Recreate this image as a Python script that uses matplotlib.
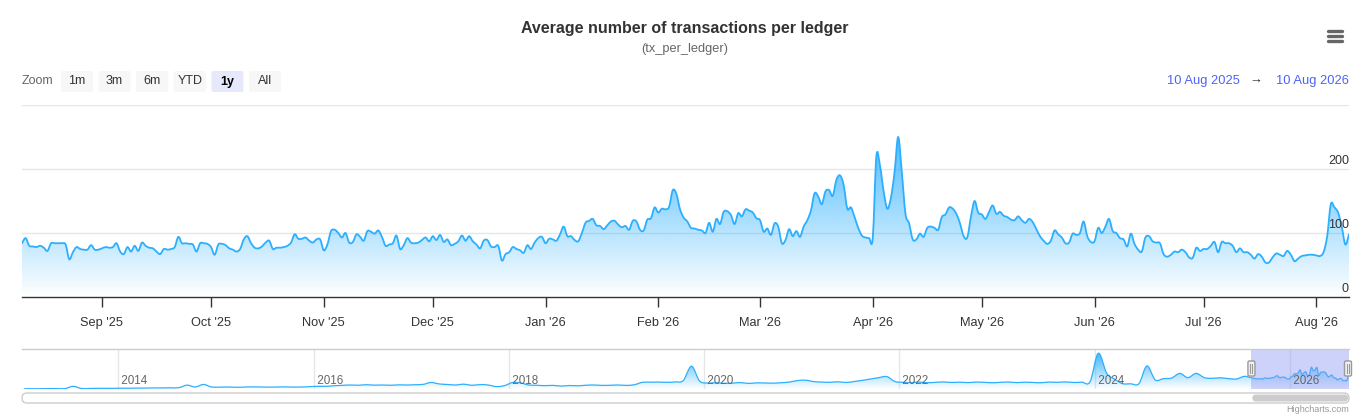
import matplotlib
matplotlib.use("Agg")
import matplotlib.pyplot as plt
import matplotlib.dates as mdates
from matplotlib.patches import FancyBboxPatch, PathPatch
from matplotlib.path import Path
from matplotlib.transforms import blended_transform_factory
import numpy as np
import pandas as pd

plt.rcParams['font.family'] = ['Liberation Sans', 'DejaVu Sans']

W, H = 1369, 420

title = "Average number of transactions per ledger"
subtitle = "(tx_per_ledger)"
zoom_buttons = ["1m", "3m", "6m", "YTD", "1y", "All"]
selected_button = "1y"
range_from = "10 Aug 2025"
range_to = "10 Aug 2026"
start_day = "2025-08-10"

# daily values, 10 Aug 2025 .. 10 Aug 2026
aug25 = [84, 92, 80, 79, 78, 80, 77, 72, 84, 84, 84, 84, 82, 59, 70, 78, 75, 74, 74, 81, 74, 74]
sep25 = [76, 78, 77, 78, 84, 71, 67, 78, 71, 80, 72, 85, 80, 77, 76, 71, 67, 75, 74, 75, 78, 94, 84, 84, 83,
         82, 71, 84, 84, 83]
oct25 = [78, 66, 82, 83, 81, 76, 74, 71, 75, 90, 95, 84, 77, 76, 79, 85, 88, 75, 77, 77, 78, 80, 85, 98, 91,
         91, 93, 88, 85, 90, 90]
nov25 = [73, 82, 103, 105, 100, 93, 100, 85, 86, 98, 94, 88, 103, 102, 99, 104, 94, 80, 82, 84, 96, 75, 81,
         92, 85, 84, 85, 89, 93, 87]
dec25 = [95, 89, 97, 86, 90, 81, 83, 87, 96, 88, 95, 87, 82, 76, 88, 89, 79, 78, 80, 57, 67, 70, 78, 75, 73,
         69, 81, 75, 85, 92, 94]
jan26 = [84, 91, 90, 88, 98, 110, 95, 95, 89, 87, 100, 116, 119, 122, 112, 111, 106, 112, 118, 119, 113, 109,
         111, 105, 119, 118, 105, 104, 121, 123, 140]
feb26 = [132, 138, 137, 141, 167, 161, 137, 124, 118, 108, 107, 105, 104, 100, 116, 102, 122, 114, 133, 134,
         128, 114, 131, 126, 137, 135, 132, 123]
mar26 = [120, 102, 107, 97, 115, 110, 84, 89, 106, 95, 103, 94, 110, 120, 135, 162, 157, 145, 165, 167, 158,
         183, 190, 175, 138, 140, 125, 108, 96, 93, 92]
apr26 = [92, 220, 205, 165, 138, 155, 195, 250, 195, 130, 115, 90, 90, 99, 94, 108, 110, 108, 105, 125, 129,
         140, 138, 130, 115, 95, 93, 125, 150, 132]
may26 = [129, 122, 133, 143, 130, 133, 127, 125, 121, 120, 126, 120, 116, 122, 117, 106, 95, 88, 83, 88, 104,
         98, 93, 84, 85, 99, 97, 100, 118, 95, 86]
jun26 = [87, 108, 100, 110, 122, 103, 100, 92, 90, 79, 99, 83, 74, 71, 93, 95, 87, 85, 84, 67, 63, 66, 71, 70,
         74, 70, 62, 61, 77, 72]
jul26 = [75, 75, 80, 86, 70, 86, 84, 84, 80, 70, 76, 70, 70, 66, 60, 67, 63, 54, 54, 62, 68, 66, 64, 72, 66,
         56, 60, 64, 65, 66, 66]
aug26 = [65, 64, 70, 95, 145, 140, 132, 110, 82, 98]

# navigator history, monthly (mid-month) Jan 2013 .. Jul 2025
nav_2013 = [2, 2, 2, 3, 3, 3, 20, 4, 4, 5, 5, 5]
nav_2014 = [6, 6, 7, 7, 8, 8, 9, 10, 29, 15, 34, 15]
nav_2015 = [14, 15, 13, 14, 16, 15, 14, 15, 16, 14, 15, 17]
nav_2016 = [20, 20, 24, 27, 30, 28, 32, 29, 30, 28, 31, 30]
nav_2017 = [32, 35, 49, 38, 34, 30, 36, 28, 33, 30, 18, 25]
nav_2018 = [49, 45, 30, 28, 25, 27, 22, 26, 24, 28, 30, 27]
nav_2019 = [28, 30, 27, 32, 50, 51, 52, 50, 53, 63, 171, 60]
nav_2020 = [45, 47, 43, 44, 48, 42, 46, 45, 44, 47, 52, 63]
nav_2021 = [66, 55, 52, 50, 54, 49, 56, 65, 75, 85, 93, 56]
nav_2022 = [50, 48, 52, 47, 50, 53, 49, 51, 48, 52, 50, 47]
nav_2023 = [50, 52, 48, 51, 49, 47, 52, 50, 53, 49, 51, 54]
nav_2024 = [268, 120, 75, 40, 39, 40, 173, 68, 78, 82, 117, 85]
nav_2025 = [117, 85, 80, 84, 78, 75, 95]
nav_years = [2014, 2016, 2018, 2020, 2022, 2024, 2026]

LINE = '#2caffe'
RGB = np.array([44, 175, 254]) / 255.0

values = np.array(aug25 + sep25 + oct25 + nov25 + dec25 + jan26 + feb26 + mar26 + apr26 + may26
                  + jun26 + jul26 + aug26, dtype=float)
days = pd.date_range(start_day, periods=len(values), freq='D')
x = mdates.date2num(days)

nav_hist = (nav_2013 + nav_2014 + nav_2015 + nav_2016 + nav_2017 + nav_2018 + nav_2019 + nav_2020
            + nav_2021 + nav_2022 + nav_2023 + nav_2024 + nav_2025)
hist_dates = pd.date_range('2013-01-01', periods=len(nav_hist), freq='MS') + pd.Timedelta(days=14)
weekly = pd.Series(values, index=days).resample('W').mean()
nav_x = np.concatenate([mdates.date2num(hist_dates), mdates.date2num(weekly.index)])
nav_y = np.concatenate([np.array(nav_hist, dtype=float), weekly.values])


def spline_verts(xs, ys):
    # smooth curve through the points (like a Highcharts spline series)
    pts = np.column_stack([xs, ys])
    n = len(pts)
    verts = [pts[0]]
    codes = [Path.MOVETO]
    for i in range(n - 1):
        p0 = pts[i - 1] if i > 0 else pts[i]
        p1, p2 = pts[i], pts[i + 1]
        p3 = pts[i + 2] if i + 2 < n else pts[i + 1]
        verts += [p1 + (p2 - p0) / 6, p2 - (p3 - p1) / 6, p2]
        codes += [Path.CURVE4] * 3
    return verts, codes


def spline_area(ax, xs, ys, top, lw):
    verts, codes = spline_verts(xs, ys)
    ax.add_patch(PathPatch(Path(verts, codes), fc='none', ec=LINE, lw=lw, zorder=3,
                           capstyle='round', joinstyle='round'))
    area = Path(verts + [(xs[-1], 0), (xs[0], 0), verts[0]],
                codes + [Path.LINETO, Path.LINETO, Path.CLOSEPOLY])
    clip = PathPatch(area, transform=ax.transData, fc='none', ec='none')
    ax.add_patch(clip)
    grad = np.zeros((256, 1, 4))
    grad[..., :3] = RGB
    grad[..., 3] = np.linspace(0, 1, 256)[:, None]
    im = ax.imshow(grad, extent=[xs[0], xs[-1], 0, top], origin='lower', aspect='auto',
                   zorder=1, interpolation='bilinear')
    im.set_clip_path(clip)


fig = plt.figure(figsize=(W / 100, H / 100), dpi=100)

# main chart
ax = fig.add_axes([22 / W, 1 - 297 / H, 1327 / W, 192 / H])
spline_area(ax, x, values, 300, 1.3)
for v in [100, 200, 300]:
    ax.axhline(v, color='#e6e6e6', lw=1, zorder=0)
ax.set_xlim(x[0], x[-1])
ax.set_ylim(0, 300)
for s in ['top', 'left', 'right']:
    ax.spines[s].set_visible(False)
ax.spines['bottom'].set_color('#333333')
ax.spines['bottom'].set_linewidth(1)
ax.set_yticks([])
ax.xaxis.set_major_locator(mdates.MonthLocator())
ax.xaxis.set_major_formatter(mdates.DateFormatter("%b '%y"))
ax.tick_params(axis='x', length=7.5, width=1, color='#333333', labelsize=9.2, labelcolor='#333333', pad=7)
ytr = blended_transform_factory(ax.transAxes, ax.transData)
for v in [0, 100, 200]:
    ax.text(1.0, v + 3, str(v), transform=ytr, ha='right', va='bottom', fontsize=9,
            color='#333333', zorder=5)

# navigator
nav_start = mdates.date2num(pd.Timestamp('2013-01-05'))
nav_end = x[-1]
axn = fig.add_axes([22 / W, 1 - 389 / H, 1327 / W, 40 / H])
spline_area(axn, nav_x, nav_y, 300, 0.9)
axn.set_xlim(nav_start, nav_end)
axn.set_ylim(0, 300)
axn.axis('off')
ntr = blended_transform_factory(axn.transData, axn.transAxes)
for yr in nav_years:
    gx = mdates.date2num(pd.Timestamp(f'{yr}-01-01'))
    axn.axvline(gx, color='#e6e6e6', lw=1, zorder=0)
    axn.text(gx, 0.2, f' {yr}', transform=ntr, ha='left', va='center', fontsize=8.4,
             color='#666666', zorder=6)
axn.axvspan(x[0], x[-1], color='#8f9cf2', alpha=0.45, zorder=4, lw=0)

# overlay in pixel coordinates
ov = fig.add_axes([0, 0, 1, 1])
ov.set_xlim(0, W)
ov.set_ylim(H, 0)
ov.axis('off')
ov.patch.set_alpha(0)

ov.text(W / 2, 29, title, ha='center', va='center', fontsize=11.5, fontweight='bold', color='#333333')
ov.text(W / 2, 49, subtitle, ha='center', va='center', fontsize=9.2, color='#666666')

# menu icon
for yy in [31, 36, 41]:
    ov.plot([1328, 1342], [yy, yy], color='#666666', lw=2.4, solid_capstyle='round')

# range selector
ov.text(22, 81, 'Zoom', ha='left', va='center', fontsize=9, color='#666666')
bx = 61
for b in zoom_buttons:
    sel = b == selected_button
    ov.add_patch(FancyBboxPatch((bx, 71), 32, 21, boxstyle='round,pad=0,rounding_size=2',
                                fc='#e6e9fb' if sel else '#f7f7f7', ec='none'))
    ov.text(bx + 16, 81.5, b, ha='center', va='center', fontsize=9,
            color='#000000' if sel else '#333333', fontweight='bold' if sel else 'normal')
    bx += 37.6

ov.text(1240, 81, range_from, ha='right', va='center', fontsize=9.3, color='#4d63f5')
ov.text(1256, 81, '\u2192', ha='center', va='center', fontsize=9.3, color='#333333')
ov.text(1349, 81, range_to, ha='right', va='center', fontsize=9.3, color='#4d63f5')

# navigator outline, handles and scrollbar
hx0 = axn.transData.transform((x[0], 0))[0]
hx1 = axn.transData.transform((x[-1], 0))[0]
ov.plot([22, 1349], [349, 349], color='#cccccc', lw=1)
for hx in [hx0, hx1 - 1]:
    ov.add_patch(FancyBboxPatch((hx - 3.5, 361), 7, 15, boxstyle='round,pad=0,rounding_size=1.5',
                                fc='#f2f2f2', ec='#999999', lw=1, zorder=7))
    ov.plot([hx - 1, hx - 1], [364, 373], color='#999999', lw=0.8, zorder=8)
    ov.plot([hx + 1, hx + 1], [364, 373], color='#999999', lw=0.8, zorder=8)

ov.add_patch(FancyBboxPatch((22, 393), 1327, 10, boxstyle='round,pad=0,rounding_size=5',
                            fc='white', ec='#cccccc', lw=1))
ov.add_patch(FancyBboxPatch((hx0 + 1, 394.5), hx1 - hx0 - 2, 7, boxstyle='round,pad=0,rounding_size=3.5',
                            fc='#cccccc', ec='none'))

ov.text(1349, 410, 'Highcharts.com', ha='right', va='center', fontsize=6.5, color='#999999')

fig.savefig('out.png', dpi=100)
